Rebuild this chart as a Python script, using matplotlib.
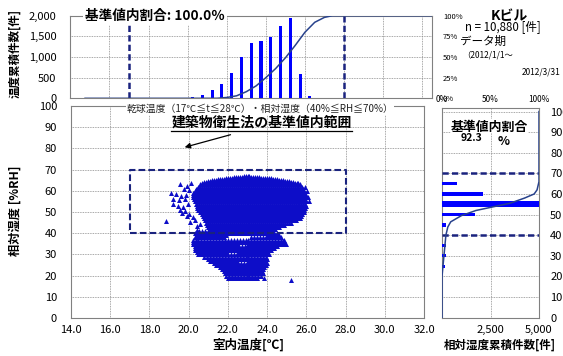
import matplotlib
matplotlib.use("Agg")
import matplotlib.pyplot as plt
import numpy as np
from matplotlib.lines import Line2D

plt.rcParams['font.family'] = ['Noto Sans CJK JP', 'DejaVu Sans']

# ---- temperature histogram (0.5 C bins) ----
temp_bins = [20.25, 20.75, 21.25, 21.75, 22.25, 22.75, 23.25, 23.75,
             24.25, 24.75, 25.25, 25.75, 26.25]
temp_counts = [25, 80, 200, 345, 605, 1005, 1330, 1385, 1475, 1750, 1935, 590, 60]
# cumulative share of the temperature records [%]
temp_cum_t = [14.75, 21.5, 22.0, 22.5, 23.0, 23.5, 24.0, 24.5, 25.0, 25.5,
              26.0, 26.5, 27.0, 27.4, 32.5]
temp_cum_pct = [0, 0, 1, 3, 8, 15, 25, 36, 49, 64, 80, 92, 98, 100, 100]

# ---- relative humidity histogram (5 % bins) ----
rh_bins = [65, 60, 55, 50, 45, 35, 30, 25]
rh_counts = [770, 2110, 5550, 1700, 200, 200, 200, 150]
rh_cum_pct = [0, 0, 2, 4, 6, 9, 20, 35, 50, 70, 85, 95, 98, 100, 100]
rh_cum_rh = [0, 20, 30, 40, 44, 46.5, 49.5, 52, 53.5, 55.5, 58, 60, 62, 66, 100]

# ---- scatter body: rows of readings (rh, t_lo, t_hi) ----
dense_rows = [
    (67, 22.8, 23.1), (66.5, 22.3, 23.6), (66, 21.9, 24.2), (65.5, 21.5, 24.5),
    (65, 21.2, 24.8), (64.5, 21.0, 25.1), (64, 20.8, 25.3), (63.5, 20.7, 25.6),
    (63, 20.6, 25.75), (62, 20.5, 25.8), (61, 20.35, 25.85), (60, 20.3, 25.9),
    (59, 20.2, 25.95), (58, 20.2, 26.0), (57, 20.2, 26.0), (56, 20.25, 26.0),
    (55, 20.3, 26.0), (54, 20.35, 26.0), (53, 20.4, 26.0), (52, 20.45, 25.95),
    (51, 20.5, 25.95), (50, 20.6, 25.9), (49, 20.7, 25.85), (48, 20.75, 25.8),
    (47, 20.8, 25.7), (46, 20.85, 25.5), (45, 20.9, 25.2), (44, 20.95, 24.9),
    (43, 21.0, 24.6), (42, 21.1, 24.4),
]
sparse_rows = [
    (41, 20.4, 24.3), (40, 20.3, 24.6), (39, 20.4, 22.0), (39, 24.0, 24.6),
    (38, 20.3, 21.8), (38, 23.2, 24.8), (37, 20.2, 24.9), (36, 20.2, 24.9),
    (35, 20.2, 22.5), (35, 23.0, 24.9), (34, 20.3, 24.6), (33, 20.3, 24.4),
    (32, 20.3, 24.2), (31, 20.4, 22.0), (31, 22.5, 24.1), (30, 20.5, 24.1),
    (29, 20.8, 24.0), (28, 21.0, 24.0), (27, 21.1, 22.5), (27, 23.0, 24.0),
    (26, 21.3, 24.0), (25, 21.4, 23.95), (24, 21.6, 23.9), (23, 21.7, 23.9),
    (22, 21.8, 23.85), (21, 21.85, 23.8), (20, 21.9, 23.75), (19, 22.0, 23.6),
]
stray_t = [19.56, 19.9, 20.1, 19.75, 20.0, 19.1, 19.35, 19.6, 19.85, 19.2,
           19.5, 19.8, 19.2, 19.45, 19.7, 19.95, 19.55, 19.8, 19.65, 20.0,
           19.9, 20.2, 20.07, 20.3, 20.4, 20.6, 20.4, 18.85,
           26.05, 26.1, 26.15, 25.95, 25.2, 23.86, 24.8, 24.95]
stray_rh = [63, 62.5, 63.5, 61, 60.5, 59, 58.5, 57.5, 58, 56,
            55.5, 56, 54, 53, 52.5, 54, 51, 50.5, 49.5, 49,
            48, 47.5, 45.5, 46, 43.5, 44.5, 41.6, 45.9,
            60, 57, 55, 62, 18.1, 18.9, 36.5, 35]

BLUE = '#0000ff'
DOT_BLUE = '#0d0dc8'
NAVY = '#1a237e'
LINE_NAVY = '#28428c'
GRID = dict(color='#8a8a8a', lw=0.6, ls=(0, (1, 1)))
SPINE = '#808080'
W, H = 563, 356


def rect(l, t, r, b):
    return [l / W, 1 - b / H, (r - l) / W, (b - t) / H]


def fill_rows(rows, dt):
    ts, rs = [], []
    for rh, t_lo, t_hi in rows:
        tt = np.arange(t_lo, t_hi + 1e-6, dt)
        ts.extend(tt)
        rs.extend([rh] * len(tt))
    return np.array(ts), np.array(rs)


def style_spines(ax):
    for s in ax.spines.values():
        s.set_color(SPINE)
        s.set_linewidth(0.8)


fig = plt.figure(figsize=(W / 100, H / 100), dpi=100)

# ---- main scatter ----
ax = fig.add_axes(rect(71, 106, 424, 318))
t1, r1 = fill_rows(dense_rows, 0.1)
t2, r2 = fill_rows(sparse_rows, 0.15)
ax.scatter(np.concatenate([t1, t2, stray_t]), np.concatenate([r1, r2, stray_rh]),
           marker='^', s=13, color=DOT_BLUE, linewidths=0, zorder=3)
ax.plot([17, 28, 28, 17, 17], [40, 40, 70, 70, 40], color=NAVY, lw=1.5,
        ls=(0, (3.2, 1.5)), zorder=4)
ax.set_xlim(14, 32)
ax.set_ylim(0, 100)
ax.set_xticks(np.arange(14, 32.1, 2))
ax.set_xticklabels([f"{v:.1f}" for v in np.arange(14, 32.1, 2)])
ax.set_yticks(np.arange(0, 101, 10))
ax.tick_params(axis='both', length=0, labelsize=8)
ax.tick_params(axis='y', pad=10)
ax.tick_params(axis='x', pad=5)
ax.grid(True, **GRID)
ax.set_axisbelow(True)
style_spines(ax)

ax.text(23.64, 98.6, "乾球温度（17℃≦t≦28℃）・相対湿度（40%≦RH≦70%）", fontsize=7.1,
        ha='center', va='center', zorder=5, color='#222222',
        bbox=dict(facecolor='white', edgecolor='none', pad=0.5))
title = ax.text(23.72, 92.2, "建築物衛生法の基準値内範囲", fontsize=10, fontweight='bold',
                ha='center', va='center', zorder=5)
ax.annotate('', xy=(19.66, 80.2), xytext=(22.27, 86.8),
            arrowprops=dict(arrowstyle='-|>', color='black', lw=0.9, mutation_scale=8))

# ---- top: temperature histogram ----
axt = fig.add_axes(rect(70.4, 15.7, 432, 98.3))
axt.bar(temp_bins, temp_counts, width=0.16, color=BLUE, zorder=3)
axt.axvline(17, color=NAVY, lw=1.8, ls=(0, (2.5, 1.3)), zorder=4)
axt.axvline(28, color=NAVY, lw=1.8, ls=(0, (2.5, 1.3)), zorder=4)
axt.set_xlim(14, 32.5)
axt.set_ylim(0, 2000)
axt.set_xticks(np.arange(16, 32.1, 2))
axt.set_xticklabels([])
axt.set_yticks([0, 500, 1000, 1500, 2000])
axt.set_yticklabels(["0", "500", "1,000", "1,500", "2,000"])
axt.tick_params(axis='both', length=0, labelsize=8)
axt.tick_params(axis='y', pad=10)
axt.grid(True, **GRID)
axt.set_axisbelow(True)
style_spines(axt)
axt.text((155 - 70.4) / 361.6, 1.0, "基準値内割合: 100.0％", transform=axt.transAxes,
         fontsize=9.8, fontweight='bold', ha='center', va='center', zorder=5,
         bbox=dict(facecolor='white', edgecolor='none', pad=1.5))

axt2 = axt.twinx()
axt2.plot(temp_cum_t, temp_cum_pct, color=LINE_NAVY, lw=1.1)
axt2.set_ylim(0, 100)
axt2.set_yticks([0, 25, 50, 75, 100])
axt2.set_yticklabels(["0%", "25%", "50%", "75%", "100%"])
axt2.tick_params(axis='y', length=0, labelsize=5.5, pad=8)
for s in axt2.spines.values():
    s.set_visible(False)

# ---- right: humidity histogram ----
axr = fig.add_axes(rect(442, 108, 539, 317.7))
bar_h = np.where(np.array(rh_counts) > 5000, 3.0, 1.6)
axr.barh(rh_bins, rh_counts, height=bar_h, color=BLUE, zorder=3)
axr.axhline(70, color=NAVY, lw=1.8, ls=(0, (2.5, 1.3)), zorder=4)
axr.axhline(40, color=NAVY, lw=1.8, ls=(0, (2.5, 1.3)), zorder=4)
axr.set_xlim(0, 5000)
axr.set_ylim(0, 101.7)
axr.set_xticks([2500, 5000])
axr.set_xticklabels(["2,500", "5,000"])
axr.set_yticks(np.arange(0, 101, 10))
axr.yaxis.tick_right()
axr.tick_params(axis='both', length=0, labelsize=8)
axr.tick_params(axis='y', pad=8)
axr.tick_params(axis='x', pad=5)
axr.grid(True, **GRID)
axr.set_axisbelow(True)
style_spines(axr)

axr2 = axr.twiny()
axr2.plot(rh_cum_pct, rh_cum_rh, color=LINE_NAVY, lw=1.1, zorder=3)
axr2.set_xlim(0, 100)
axr2.set_xticks([0, 50, 100])
axr2.set_xticklabels(["0%", "50%", "100%"])
axr2.tick_params(axis='x', length=0, labelsize=6, pad=3)
for s in axr2.spines.values():
    s.set_visible(False)
axr2.text(0.49, 0.912, "基準値内割合", transform=axr2.transAxes, fontsize=9.3,
          fontweight='bold', ha='center', va='center', zorder=5,
          bbox=dict(facecolor='white', edgecolor='none', pad=0))
axr2.text(0.30, 0.855, "92.3", transform=axr2.transAxes, fontsize=7.5,
          fontweight='bold', ha='center', va='center', zorder=6)
axr2.text(0.64, 0.842, "%", transform=axr2.transAxes, fontsize=9,
          fontweight='bold', ha='center', va='center', zorder=6)

# ---- labels and info text ----
fig.text(15 / W, 1 - 54 / H, "温度累積件数[件]", rotation=90, fontsize=8.3,
         fontweight='bold', ha='center', va='center')
fig.text(15 / W, 1 - 211 / H, "相対湿度 [%RH]", rotation=90, fontsize=8.8,
         fontweight='bold', ha='center', va='center')
fig.text(248 / W, 1 - 345 / H, "室内温度[℃]", fontsize=9, fontweight='bold',
         ha='center', va='center')
fig.text(500 / W, 1 - 345 / H, "相対湿度累積件数[件]", fontsize=8.3, fontweight='bold',
         ha='center', va='center')
fig.text(509 / W, 1 - 16 / H, "Kビル", fontsize=10, fontweight='bold',
         ha='center', va='center')
fig.text(503 / W, 1 - 28 / H, "n = 10,880 [件]", fontsize=8.3,
         ha='center', va='center')
fig.text(460 / W, 1 - 41 / H, "データ期", fontsize=8.3, ha='left', va='center')
fig.text(462 / W, 1 - 55 / H, "（2012/1/1～", fontsize=6, ha='left', va='center')
fig.text(560 / W, 1 - 72 / H, "2012/3/31", fontsize=6, ha='right', va='center')

# underline under the standard-range caption
fig.canvas.draw()
bb = title.get_window_extent()
fig.add_artist(Line2D([bb.x0, bb.x1], [bb.y0 - 1, bb.y0 - 1], transform=None,
                      color='black', lw=0.9))

fig.savefig("out.png", dpi=100)
